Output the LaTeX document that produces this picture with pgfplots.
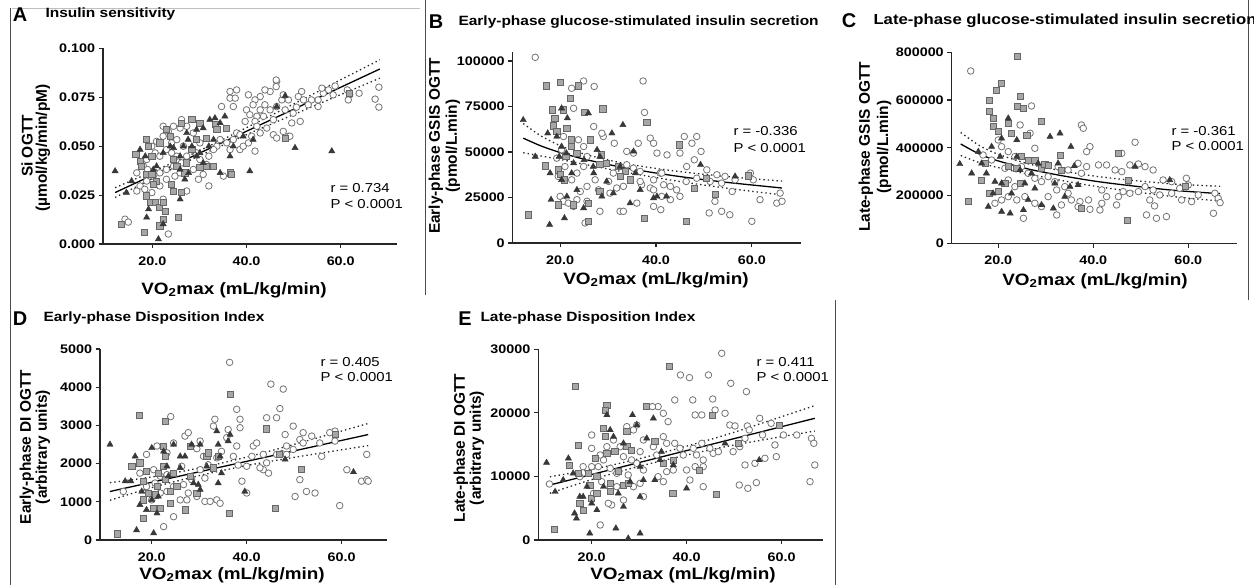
\documentclass[border=0pt]{standalone}
\usepackage{pgfplots}
\pgfplotsset{compat=1.18}
\usepackage{fontspec}
\setmainfont{Liberation Sans}[FakeStretch=1.15]
\newfontfamily\plainfont{Liberation Sans}

\newcommand\tickf{\fontsize{12.5}{14}\selectfont\bfseries}
\newcommand\labf{\fontsize{16.5}{18}\selectfont\bfseries}
\newcommand\ylabf{\plainfont\fontsize{15.5}{17}\selectfont\bfseries}
\newcommand\titf{\fontsize{13.5}{15}\selectfont\bfseries}
\newcommand\letf{\plainfont\fontsize{20}{22}\selectfont\bfseries}
\newcommand\rf{\fontsize{13}{15}\selectfont}

\pgfplotsset{
  gp/.style={scale only axis, anchor=south west, clip=false,
    axis lines=left, axis line style={-, line width=1.4pt, black!85},
    tick align=outside, major tick length=4.5pt,
    tick style={line width=1.2pt, black!85},
    ticklabel style={font=\tickf},
    xticklabel style={yshift=-5bp},
    scaled ticks=false, xtick={20,40,60}, xticklabels={20.0,40.0,60.0}},
  circ/.style={only marks, mark=*, mark size=3.3pt,
    mark options={draw=black!55, fill=white, line width=0.8pt}},
  sq/.style={only marks, mark=square*, mark size=3.1pt,
    mark options={draw=black!60, fill=black!35, line width=0.7pt}},
  tri/.style={only marks, mark=triangle*, mark size=3.6pt,
    mark options={draw=black!78, fill=black!78}},
  fit/.style={black, line width=1.3pt, mark=none, smooth},
  ci/.style={black!85, line width=1.3pt, dash pattern=on 1.4pt off 3pt, mark=none, smooth},
}

\begin{document}
\begin{tikzpicture}[x=1bp,y=1bp]
\fill[white] (0,0) rectangle (1254,585);
\path[use as bounding box] (0,0) rectangle (1254,585);
\draw[black!70, line width=0.8pt] (10,0)--(10,577) (425,585)--(425,290) (1248,585)--(1248,285) (835,285)--(835,0);
\draw[black!25, line width=0.6pt] (12,577)--(420,577);

% ---------- A
\node[font=\letf] at (20,570) {A};
\node[font=\titf, anchor=west] at (42,571) {Insulin sensitivity};
\node[font=\ylabf, rotate=90] at (27,439) {Si OGTT};
\node[font=\ylabf, rotate=90] at (43,437) {(µmol/kg/min/pM)};
\node[font=\labf] at (234,295) {VO\textsubscript{2}max (mL/kg/min)};
\node[font=\rf, anchor=west] at (327,397) {r = 0.734};
\node[font=\rf, anchor=west] at (327,381) {P < 0.0001};
\begin{axis}[gp, at={(103bp,341bp)}, width=294bp, height=195.5bp,
  xmin=9.53, xmax=71.95, ymin=0, ymax=0.1,
  ytick={0,0.025,0.05,0.075,0.1}, yticklabels={0.000,0.025,0.050,0.075,0.100}]
\addplot[circ] coordinates {(68.1,.0802)(67.3,.0741)(68.1,.0700)(63.9,.0771)(61.9,.0763)(61.6,.0737)(61.4,.0788)(58.8,.0808)(58.4,.0763)(57.4,.0788)(56.3,.0771)(55.2,.0737)(55.2,.0703)(56.0,.0797)(53.8,.0737)(53.1,.0712)(51.7,.0780)(51.0,.0754)(52.1,.0737)(50.6,.0700)(49.9,.0669)(49.6,.0619)(48.9,.0551)(46.4,.0831)(46.3,.0805)(46.3,.0839)(45.0,.0780)(43.9,.0788)(42.9,.0754)(41.8,.0737)(40.4,.0763)(40.0,.0686)(41.4,.0712)(42.9,.0686)(43.9,.0712)(45.0,.0686)(46.4,.0703)(47.5,.0737)(47.8,.0763)(48.9,.0737)(48.2,.0686)(43.6,.0653)(42.2,.0653)(40.7,.0661)(39.7,.0627)(41.8,.0627)(45.7,.0636)(45.7,.0559)(46.4,.0542)(41.8,.0475)(36.5,.0780)(36.5,.0746)(37.9,.0788)(37.6,.0746)(34.7,.0703)(37.2,.0703)(37.9,.0568)(38.6,.0559)(37.2,.0534)(35.8,.0517)(36.5,.0483)(34.4,.0534)(33.7,.0500)(33.0,.0483)(32.0,.0449)(31.5,.0407)(32.0,.0297)(35.1,.0347)(30.1,.0432)(29.4,.0466)(30.1,.0517)(28.7,.0568)(27.3,.0602)(26.2,.0636)(25.9,.0593)(24.5,.0602)(22.3,.0602)(23.4,.0576)(22.3,.0551)(20.9,.0525)(19.9,.0500)(20.6,.0466)(21.6,.0449)(23.0,.0483)(24.1,.0517)(25.2,.0534)(26.6,.0500)(27.3,.0449)(26.2,.0415)(24.5,.0398)(23.0,.0381)(21.6,.0364)(20.2,.0347)(18.8,.0322)(17.4,.0297)(16.7,.0271)(18.4,.0280)(19.9,.0263)(21.6,.0297)(23.0,.0331)(24.8,.0347)(25.9,.0364)(27.3,.0271)(25.2,.0449)(24.1,.0466)(18.8,.0432)(18.1,.0398)(19.0,.0381)(16.7,.0364)(14.2,.0127)(14.9,.0112)(23.4,.0051)(22.3,.0229)(28.7,.0381)(30.8,.0356)(29.8,.0331)(38.6,.0483)(39.3,.0500)(40.4,.0517)(41.1,.0551)(47.8,.0576)(49.2,.0551)(51.4,.0627)(42.9,.0568)(44.3,.0593)(42.2,.0602)};
\addplot[sq] coordinates {(18.8,.0534)(19.2,.0500)(16.5,.0458)(17.4,.0424)(17.7,.0398)(18.8,.0356)(19.9,.0356)(20.9,.0322)(20.2,.0305)(18.7,.0246)(19.5,.0212)(20.6,.0212)(21.5,.0186)(22.3,.0212)(22.7,.0169)(22.3,.0127)(21.6,.0093)(18.3,.0059)(13.5,.0102)(25.5,.0136)(24.5,.0271)(24.1,.0305)(26.2,.0263)(26.9,.0364)(27.3,.0415)(28.4,.0483)(28.4,.0636)(26.2,.0619)(23.0,.0585)(23.8,.0551)(31.5,.0542)(33.3,.0610)(33.7,.0585)(35.8,.0593)(36.5,.0364)(36.8,.0356)(31.5,.0398)(30.1,.0390)(33.0,.0398)(24.5,.0432)(25.2,.0398)(29.4,.0534)(30.1,.0619)(48.2,.0542)(61.9,.0771)(21.6,.0517)(19.9,.0449)};
\addplot[tri] coordinates {(12.1,.0373)(14.5,.0263)(15.6,.0322)(18.8,.0136)(19.2,.0178)(21.3,.0025)(22.3,.0102)(25.9,.0229)(25.9,.0381)(26.9,.0331)(27.7,.0364)(26.6,.0500)(27.6,.0534)(28.4,.0500)(29.4,.0585)(30.8,.0593)(32.2,.0636)(33.3,.0644)(35.4,.0653)(34.4,.0619)(33.0,.0534)(32.0,.0500)(30.1,.0466)(30.8,.0415)(29.4,.0449)(25.9,.0449)(23.8,.0500)(22.3,.0466)(20.9,.0398)(20.2,.0381)(18.5,.0449)(17.4,.0483)(34.4,.0364)(36.5,.0449)(37.2,.0500)(40.7,.0373)(41.4,.0534)(48.2,.0758)(50.3,.0492)(58.1,.0475)(46.4,.0703)(27.3,.0568)(24.5,.0492)(39.3,.0551)};
\addplot[fit] coordinates {(12.1,.0263)(68.3,.0895)};
\addplot[ci] coordinates {(12.1,.0288)(20,.0370)(30,.0477)(40,.0595)(50,.0716)(60,.0840)(68.3,.0942)};
\addplot[ci] coordinates {(12.1,.0238)(20,.0334)(30,.0451)(40,.0559)(50,.0662)(60,.0764)(68.3,.0848)};
\end{axis}

% ---------- B
\node[font=\letf] at (436,563) {B};
\node[font=\titf, anchor=west] at (455,563) {Early-phase glucose-stimulated insulin secretion};
\node[font=\ylabf, rotate=90] at (436,439) {Early-phase GSIS OGTT};
\node[font=\ylabf, rotate=90] at (453,439) {(pmol/L.min)};
\node[font=\labf] at (656,305) {VO\textsubscript{2}max (mL/kg/min)};
\node[font=\rf, anchor=west] at (730,454) {r = -0.336};
\node[font=\rf, anchor=west] at (730,437) {P < 0.0001};
\begin{axis}[gp, at={(512.7bp,342bp)}, width=288bp, height=191.3bp,
  xmin=10.1, xmax=70.2, ymin=0, ymax=105100,
  ytick={0,25000,50000,75000,100000}, yticklabels={0,25000,50000,75000,100000}]
\addplot[circ] coordinates {(14.8,102000)(24.9,89000)(27.1,86000)(22.4,85000)(37.3,89000)(37.6,71700)(22.8,74000)(29.0,58500)(28.7,60300)(27.0,64000)(31.3,54800)(38.8,57600)(39.5,54800)(40.2,49400)(42.3,48400)(45.9,58500)(48.5,58500)(47.5,54800)(45.0,49400)(49.4,50300)(48.0,45700)(46.4,42000)(50.6,40200)(52.7,37500)(54.4,36600)(59.7,38400)(56.5,34700)(65.9,27400)(65.2,21900)(66.3,22900)(61.7,23800)(60.0,11900)(53.7,17400)(55.4,15500)(51.1,16500)(52.3,22900)(55.9,28300)(53.7,32900)(51.3,33800)(48.5,35600)(46.3,33800)(45.0,25600)(44.3,29200)(43.0,31100)(41.6,32000)(40.9,38400)(39.5,34700)(38.8,30200)(37.0,32000)(36.7,39300)(35.3,41100)(33.9,43000)(32.5,42000)(31.1,38400)(30.1,33800)(30.4,27400)(28.0,29200)(28.3,17400)(25.2,11000)(32.5,17400)(33.2,17400)(36.0,21900)(39.5,29200)(41.0,18300)(39.5,20100)(41.2,38400)(33.2,31100)(31.8,30200)(25.6,31100)(24.2,28300)(23.5,23800)(22.4,34700)(23.5,38400)(24.9,42000)(25.6,47500)(24.9,53000)(23.8,56700)(20.7,58500)(20.3,51200)(19.3,46600)(21.0,42000)(19.6,36600)(20.0,25600)(20.7,22900)(21.7,21900)(22.8,20100)(25.6,22900)(27.3,34700)(33.9,50300)(35.3,49400)(36.3,54800)(36.7,33800)(41.2,25600)(43.0,23800)(60.3,34700)};
\addplot[sq] coordinates {(13.4,15500)(17.2,86300)(20.0,88100)(23.8,86300)(22.1,79500)(18.4,73100)(20.7,73100)(18.9,68600)(18.6,64400)(19.3,61200)(21.4,63100)(22.4,56700)(22.4,53000)(23.5,49400)(26.3,56700)(28.9,73700)(25.0,71700)(16.9,42400)(21.2,47500)(19.7,40200)(20.0,37500)(20.8,34700)(19.7,21000)(22.8,21000)(25.9,11900)(28.6,48400)(28.3,43000)(28.3,28300)(25.9,21900)(32.2,42000)(33.6,39300)(38.1,66200)(37.5,13700)(44.9,53900)(46.4,11900)(48.0,30200)(50.5,35600)(52.3,26500)(59.3,36900)(34.6,34700)(29.7,43900)(32.5,36600)};
\addplot[tri] coordinates {(12.3,67600)(14.8,47500)(17.4,60300)(18.1,23800)(17.8,10100)(20.3,74000)(21.5,68600)(19.3,58500)(20.3,53000)(19.8,47500)(21.3,49400)(22.8,43900)(20.3,34700)(21.4,25600)(20.9,13700)(23.5,29200)(25.0,45700)(24.9,19200)(25.9,71300)(27.7,51200)(26.9,42000)(29.7,33800)(28.7,25600)(30.8,60300)(31.1,27400)(32.5,42000)(33.1,64900)(35.3,50300)(35.7,38400)(34.6,21900)(36.7,29200)(39.5,24700)(40.2,25600)(42.2,25600)(49.3,43000)(56.5,36600)(27.0,38400)(28.3,47500)(17.9,38400)(22.4,38400)};
\addplot[fit] coordinates {(12.3,57600)(16,53320)(20,49700)(25,46070)(32.5,41800)(40,38430)(46.4,36000)(55,33240)(66.3,30200)};
\addplot[ci] coordinates {(12.3,65600)(16,58820)(20,53500)(25,48870)(32.5,44200)(40,40930)(46.4,38800)(55,36440)(66.3,34000)};
\addplot[ci] coordinates {(12.3,49600)(16,47820)(20,45900)(25,43270)(32.5,39400)(40,35930)(46.4,33200)(55,30040)(66.3,26400)};
\end{axis}

% ---------- C
\node[font=\letf] at (849,564) {C};
\node[font=\fontsize{14.6}{16}\selectfont\bfseries, anchor=west] at (870,564) {Late-phase glucose-stimulated insulin secretion};
\node[font=\ylabf, rotate=90] at (866,438) {Late-phase GSIS OGTT};
\node[font=\ylabf, rotate=90] at (884,438) {(pmol/L.min)};
\node[font=\labf] at (1095,304) {VO\textsubscript{2}max (mL/kg/min)};
\node[font=\rf, anchor=west] at (1168,454) {r = -0.361};
\node[font=\rf, anchor=west] at (1168,439) {P < 0.0001};
\begin{axis}[gp, at={(951.7bp,341.7bp)}, width=285bp, height=191bp,
  xmin=10.2, xmax=70.2, ymin=0, ymax=800000,
  ytick={0,200000,400000,600000,800000}, yticklabels={0,200000,400000,600000,800000}]
\addplot[circ] coordinates {(14.2,721700)(27.0,575200)(24.6,495600)(26.7,460700)(37.5,495600)(37.9,481600)(39.3,404800)(38.6,383900)(48.8,423000)(46.0,376900)(36.8,335000)(38.6,321100)(37.5,293200)(41.1,328100)(42.8,328100)(44.6,307100)(46.0,300200)(47.7,328100)(49.5,332300)(50.9,321100)(52.6,307100)(54.7,265200)(56.5,258300)(59.6,272200)(60.0,244300)(58.2,230300)(56.5,209400)(54.0,202400)(51.9,181500)(52.9,156400)(51.2,118700)(53.3,104700)(55.4,111700)(58.6,181500)(62.1,202400)(65.6,209400)(66.3,188500)(66.7,170300)(65.3,125600)(60.7,174500)(52.6,223400)(50.9,237300)(49.5,216400)(47.7,209400)(46.3,216400)(45.3,195400)(44.9,160500)(42.8,195400)(41.8,167500)(41.4,139600)(39.3,142400)(39.0,181500)(37.2,174500)(35.4,181500)(34.7,209400)(34.0,237300)(31.9,258300)(30.5,279200)(29.1,258300)(27.7,272200)(26.3,293200)(24.9,321100)(23.5,363000)(22.1,383900)(20.7,404800)(20.0,432800)(21.4,314100)(22.1,265200)(23.5,237300)(22.1,195400)(20.7,181500)(19.3,167500)(23.9,181500)(25.6,195400)(27.7,167500)(29.1,153600)(30.5,195400)(32.3,223400)(25.3,104700)(32.3,118700)(33.3,160500)(18.6,349000)(16.8,369900)(27.7,397900)(34.7,307100)(32.6,321100)(36.8,153600)(41.8,223400)(47.4,258300)};
\addplot[sq] coordinates {(13.7,174500)(18.1,600300)(18.2,551400)(19.6,642200)(20.7,670100)(24.0,781700)(24.6,614200)(24.1,572300)(25.3,565400)(18.9,523500)(18.9,488600)(20.0,467700)(22.1,502600)(22.8,460700)(26.0,453700)(29.1,509500)(17.2,335000)(16.5,265200)(18.2,209400)(20.0,216400)(21.4,251300)(22.1,321100)(24.6,251300)(26.3,349000)(27.7,349000)(29.1,314100)(29.8,332300)(33.0,369900)(33.3,307100)(37.5,146600)(45.3,376900)(47.2,97700)(47.4,265200)(59.3,237300)(30.5,328100)(24.9,363000)(23.9,314100)};
\addplot[tri] coordinates {(11.9,332300)(14.4,293200)(15.8,383900)(17.5,293200)(17.9,153600)(18.9,209400)(19.3,258300)(18.6,404800)(20.7,439700)(20.4,363000)(20.7,132600)(20.7,251300)(22.5,125600)(22.1,523500)(23.9,432800)(23.9,363000)(24.6,307100)(25.6,251300)(25.3,139600)(26.3,181500)(27.0,293200)(27.7,230300)(28.4,335000)(29.1,160500)(30.9,446700)(32.6,335000)(31.9,251300)(31.6,146600)(33.0,460700)(34.0,195400)(35.1,237300)(35.3,404800)(36.0,323900)(36.8,244300)(48.8,321100)(56.1,265200)(16.5,335000)(22.8,209400)};
\addplot[fit] coordinates {(12.1,416000)(16,374000)(20,345000)(27.7,305000)(40.4,260000)(55.8,224000)(66.7,208000)};
\addplot[ci] coordinates {(12.1,464000)(16,410000)(20,373000)(27.7,326000)(40.4,281000)(55.8,250000)(66.7,239000)};
\addplot[ci] coordinates {(12.1,368000)(16,338000)(20,317000)(27.7,284000)(40.4,239000)(55.8,198000)(66.7,177000)};
\end{axis}

% ---------- D
\node[font=\letf] at (20,266) {D};
\node[font=\titf, anchor=west] at (40,267) {Early-phase Disposition Index};
\node[font=\ylabf, rotate=90] at (27,138) {Early-phase DI OGTT};
\node[font=\ylabf, rotate=90] at (43,138) {(arbitrary units)};
\node[font=\labf] at (232,10) {VO\textsubscript{2}max (mL/kg/min)};
\node[font=\rf, anchor=west] at (317,223) {r = 0.405};
\node[font=\rf, anchor=west] at (317,208) {P < 0.0001};
\begin{axis}[gp, at={(100bp,45bp)}, width=286.7bp, height=191bp,
  xmin=9.1, xmax=69.5, ymin=0, ymax=5000,
  ytick={0,1000,2000,3000,4000,5000}, yticklabels={0,1000,2000,3000,4000,5000}]
\addplot[circ] coordinates {(36.4,4650)(45.1,4080)(47.7,3950)(47.0,3440)(46.3,3200)(44.2,3200)(37.9,3420)(38.6,3160)(33.3,3160)(24.0,3230)(27.0,2720)(27.7,2810)(29.5,2390)(30.9,2190)(31.9,1970)(30.2,1840)(28.4,1580)(26.7,1450)(27.4,1050)(26.0,1050)(24.6,610)(22.5,350)(27.7,1230)(29.5,1140)(31.2,1010)(32.3,1010)(33.7,1050)(31.2,1620)(33.7,2150)(34.7,2320)(35.8,2680)(36.1,2890)(37.9,2460)(37.2,2190)(38.6,2940)(39.0,1540)(40.0,1230)(38.2,1960)(40.0,1930)(41.1,2190)(41.4,2460)(42.1,2540)(43.5,2240)(44.2,2020)(43.5,1840)(44.6,1750)(42.8,1890)(46.3,2240)(47.4,2260)(48.4,2460)(48.1,2760)(49.8,2980)(48.4,2240)(51.2,2630)(49.8,2370)(51.9,2810)(51.9,2540)(53.7,2720)(55.4,2540)(55.8,2190)(58.6,2590)(58.6,2850)(57.5,2810)(51.2,1580)(50.2,1140)(52.6,1270)(54.4,1230)(59.6,900)(61.1,1840)(64.2,1540)(65.3,1580)(65.3,2240)(65.6,1540)(24.6,2540)(23.2,2280)(21.1,2460)(18.9,2240)(17.5,1750)(20.4,1840)(21.8,1670)(23.2,1710)(24.6,1400)(23.2,1270)(21.8,1230)(20.0,1050)(18.9,1400)(20.7,1490)(14.0,1270)(26.3,1930)(30.2,2590)(33.0,2980)(34.4,960)};
\addplot[sq] coordinates {(12.8,160)(17.4,3270)(22.9,3100)(15.8,1930)(17.5,2020)(18.9,1800)(18.2,1540)(19.3,1230)(18.2,1050)(18.2,570)(20.4,830)(20.7,1180)(21.1,1400)(21.4,1750)(22.5,2460)(22.8,2190)(22.5,1930)(22.8,1580)(21.8,830)(23.9,960)(23.9,1270)(25.3,1400)(27.0,790)(28.1,2460)(28.1,1670)(31.6,2190)(33.0,1890)(32.0,2280)(34.0,2190)(36.5,3820)(36.4,700)(44.2,2910)(46.0,830)(46.9,2240)(51.6,1840)(58.6,2760)(29.5,1230)(24.6,1750)};
\addplot[tri] coordinates {(11.2,2500)(14.4,1540)(15.6,1540)(16.5,2190)(16.8,260)(17.5,920)(17.9,1270)(18.9,790)(20.0,2410)(20.0,1050)(20.4,180)(21.1,700)(21.4,1140)(22.5,2320)(23.2,1930)(23.5,1670)(24.6,2500)(26.0,2190)(26.0,1890)(27.0,2190)(28.4,2500)(28.8,1490)(30.2,2500)(29.8,1450)(30.2,1320)(31.6,1930)(33.7,2850)(34.0,2500)(34.4,2190)(34.7,1750)(34.0,1490)(36.5,2760)(36.1,2590)(39.6,1270)(48.1,2110)(62.5,1780)};
\addplot[fit] coordinates {(11.2,1270)(65.6,2760)};
\addplot[ci] coordinates {(11.2,1500)(20,1651)(30,1885)(40,2169)(50,2503)(65.6,3050)};
\addplot[ci] coordinates {(11.2,1040)(20,1371)(30,1685)(40,1949)(50,2163)(65.6,2470)};
\end{axis}

% ---------- E
\node[font=\letf] at (465,266) {E};
\node[font=\titf, anchor=west] at (477,267) {Late-phase Disposition Index};
\node[font=\ylabf, rotate=90] at (461,137) {Late-phase DI OGTT};
\node[font=\ylabf, rotate=90] at (477,137) {(arbitrary units)};
\node[font=\labf] at (683,10) {VO\textsubscript{2}max (mL/kg/min)};
\node[font=\rf, anchor=west] at (753,223) {r = 0.411};
\node[font=\rf, anchor=west] at (753,208) {P < 0.0001};
\begin{axis}[gp, at={(538.3bp,45bp)}, width=285bp, height=190.7bp,
  xmin=8.76, xmax=68.8, ymin=0, ymax=30000,
  ytick={0,10000,20000,30000}, yticklabels={0,10000,20000,30000}]
\addplot[circ] coordinates {(47.4,29370)(38.7,25960)(40.6,25540)(44.6,25960)(49.3,24650)(52.6,23340)(45.5,22180)(41.3,22030)(37.5,22030)(41.8,19670)(43.2,19670)(46.0,20450)(48.1,19930)(49.1,18090)(50.2,17940)(52.8,17940)(53.2,17310)(55.4,19140)(56.0,16520)(57.8,18350)(60.4,16520)(63.2,16520)(66.3,15990)(66.8,15210)(67.0,11800)(66.0,9180)(58.6,14950)(58.9,13110)(56.5,12850)(54.4,12060)(52.3,11800)(52.3,15990)(51.2,14680)(49.8,13900)(54.7,9020)(52.9,8130)(51.1,8650)(43.5,8390)(40.7,9440)(41.8,11540)(40.0,11010)(39.3,13370)(41.4,14420)(42.1,13370)(43.2,15210)(43.5,12590)(43.5,11540)(45.6,13630)(46.7,13900)(44.9,14420)(38.6,14420)(37.5,15210)(35.8,15210)(35.1,16260)(35.1,19930)(36.1,18620)(34.0,20980)(32.8,20980)(29.5,18090)(28.8,17310)(27.4,17830)(30.9,15730)(33.0,14680)(30.2,13900)(29.5,12060)(30.9,11010)(30.2,8910)(28.8,8390)(30.9,6820)(26.7,6290)(24.2,5510)(21.8,2360)(34.0,9960)(35.1,9180)(35.8,10750)(37.2,11010)(33.7,13370)(25.3,10490)(23.9,11270)(22.5,12590)(21.4,11540)(20.0,11540)(18.2,11540)(17.5,9960)(20.0,14420)(21.8,13370)(23.2,14680)(24.6,15730)(26.0,14680)(26.7,13110)(28.4,12590)(27.7,10230)(25.3,8390)(23.9,8390)(22.1,9180)(20.4,7340)(23.5,5770)(11.1,8810)(20.0,16520)};
\addplot[sq] coordinates {(12.1,1680)(16.5,24120)(15.3,11800)(17.2,14840)(17.2,10490)(17.5,5770)(18.2,4720)(19.3,10490)(19.6,8650)(20.0,6560)(20.7,12850)(21.1,9960)(22.5,17570)(22.8,16260)(23.2,13630)(23.2,21240)(22.8,20450)(23.9,7600)(23.9,8910)(24.9,13900)(25.6,10750)(26.7,8650)(27.4,14680)(28.4,14160)(27.4,17040)(31.6,20980)(33.3,15470)(35.1,12060)(37.1,7340)(36.4,27370)(37.2,12590)(42.7,11010)(45.5,19560)(46.2,7240)(50.9,15210)(59.6,18090)(27.7,8910)(21.1,7340)};
\addplot[tri] coordinates {(10.5,12170)(12.3,7600)(14.0,9440)(15.1,12850)(16.1,10490)(16.4,4200)(16.8,3410)(17.5,6820)(18.2,6820)(19.0,8390)(19.6,1050)(20.0,5770)(21.1,4720)(22.5,8390)(23.2,19670)(23.9,17310)(24.6,16260)(25.1,1840)(25.6,7340)(26.7,15210)(26.7,5240)(27.7,260)(28.1,9180)(28.6,19670)(29.5,18090)(30.2,6820)(30.2,1050)(30.9,9440)(31.6,16000)(33.0,19140)(33.3,9440)(34.4,12590)(34.7,13900)(37.2,11800)(40.0,8130)(48.1,15210)(55.3,12590)(30.2,11540)};
\addplot[fit] coordinates {(11.2,8650)(67.0,19140)};
\addplot[ci] coordinates {(11.2,9950)(20,11100)(30,12780)(40,14760)(50,16940)(67,21140)};
\addplot[ci] coordinates {(11.2,7350)(20,9500)(30,11580)(40,13360)(50,14940)(67,17140)};
\end{axis}
\end{tikzpicture}
\end{document}
